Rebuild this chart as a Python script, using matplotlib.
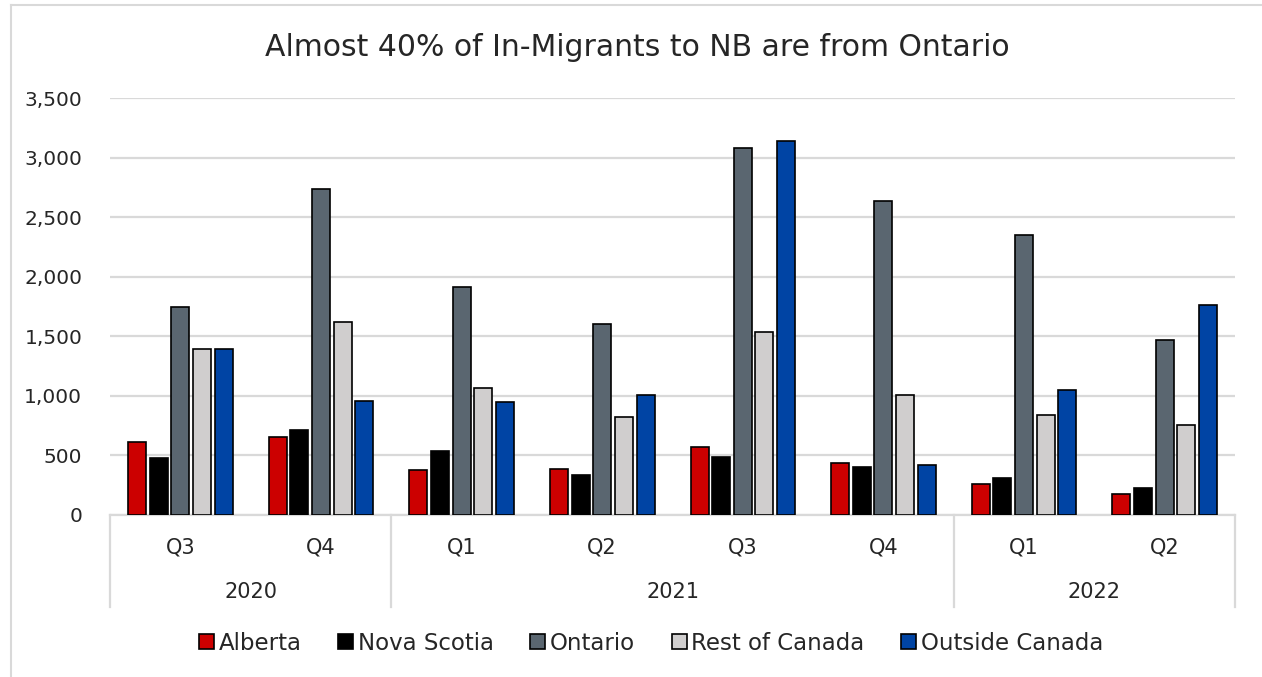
import numpy as np
import matplotlib
matplotlib.use('Agg')
import matplotlib.pyplot as plt
from matplotlib.lines import Line2D
from matplotlib.patches import Patch

# ── Data ──
quarters = ['Q3', 'Q4', 'Q1', 'Q2', 'Q3', 'Q4', 'Q1', 'Q2']
years = ['2020', '2021', '2022']
quarters_per_year = [2, 4, 2]

alberta = [615, 657, 380, 389, 568, 434, 260, 176]
nova_scotia = [476, 713, 535, 333, 490, 400, 311, 227]
ontario = [1746, 2739, 1914, 1606, 3078, 2636, 2353, 1469]
rest_of_canada = [1396, 1620, 1066, 820, 1539, 1007, 842, 758]
outside_canada = [1396, 957, 948, 1010, 3142, 420, 1049, 1765]

series_names = ['Alberta', 'Nova Scotia', 'Ontario', 'Rest of Canada', 'Outside Canada']
colors = ['#CC0000', '#000000', '#5A6670', '#D0CECE', '#0044A4']

plt.rcParams['font.family'] = ['DejaVu Sans']
grid_col = '#D9D9D9'
txt_col = '#262626'

fig = plt.figure(figsize=(12.62, 6.77), dpi=100)
ax = fig.add_axes([110/1262, 1 - 515/677, 1125/1262, 417/677])

# outer chart border (only left and top edges fall inside the image)
fig.add_artist(Line2D([11/1262, 11/1262], [0, 1 - 5/677], transform=fig.transFigure,
                      color=grid_col, linewidth=1.5))
fig.add_artist(Line2D([11/1262, 1], [1 - 5/677, 1 - 5/677], transform=fig.transFigure,
                      color=grid_col, linewidth=1.5))

x = np.arange(len(quarters))
all_series = [alberta, nova_scotia, ontario, rest_of_canada, outside_canada]
step = 0.154
width = 0.128
for i, (vals, col) in enumerate(zip(all_series, colors)):
    ax.bar(x + (i - 2) * step, vals, width=width, color=col,
           edgecolor='black', linewidth=1.2, zorder=3)

ax.set_xlim(-0.5, len(quarters) - 0.5)
ax.set_ylim(0, 3500)
ax.set_yticks(range(0, 3501, 500))
ax.set_yticklabels([f'{v:,}' for v in range(0, 3501, 500)], fontsize=14.5, color=txt_col)
ax.tick_params(axis='y', length=0, pad=20)
ax.yaxis.grid(True, color=grid_col, linewidth=1.6, zorder=0)
ax.set_axisbelow(True)
for s in ['top', 'right', 'left']:
    ax.spines[s].set_visible(False)
ax.spines['bottom'].set_color(grid_col)
ax.spines['bottom'].set_linewidth(1.6)
ax.set_xticks([])

# ── Multi-level category axis ──
tr = ax.get_xaxis_transform()
for xi, q in zip(x, quarters):
    ax.text(xi, -0.077, q, transform=tr, ha='center', va='center',
            fontsize=15, color=txt_col)

bounds = np.concatenate([[0], np.cumsum(quarters_per_year)]) - 0.5
for b in bounds:
    ax.plot([b, b], [0, -0.221], transform=tr, color=grid_col,
            linewidth=1.6, clip_on=False)
for yr, lo, hi in zip(years, bounds[:-1], bounds[1:]):
    ax.text((lo + hi) / 2, -0.185, yr, transform=tr, ha='center', va='center',
            fontsize=15, color=txt_col)

fig.text(637/1262, 1 - 48/677, 'Almost 40% of In-Migrants to NB are from Ontario',
         fontsize=21.5, color=txt_col, ha='center', va='center')

handles = [Patch(facecolor=c, edgecolor='black', linewidth=1.2) for c in colors]
fig.legend(handles, series_names, loc='center', bbox_to_anchor=(651/1262, 1 - 643/677),
           ncol=5, frameon=False, fontsize=16.5, handlelength=0.65, handleheight=0.65,
           handletextpad=0.2, columnspacing=1.6, labelcolor=txt_col)

plt.savefig('out.png', dpi=100)
